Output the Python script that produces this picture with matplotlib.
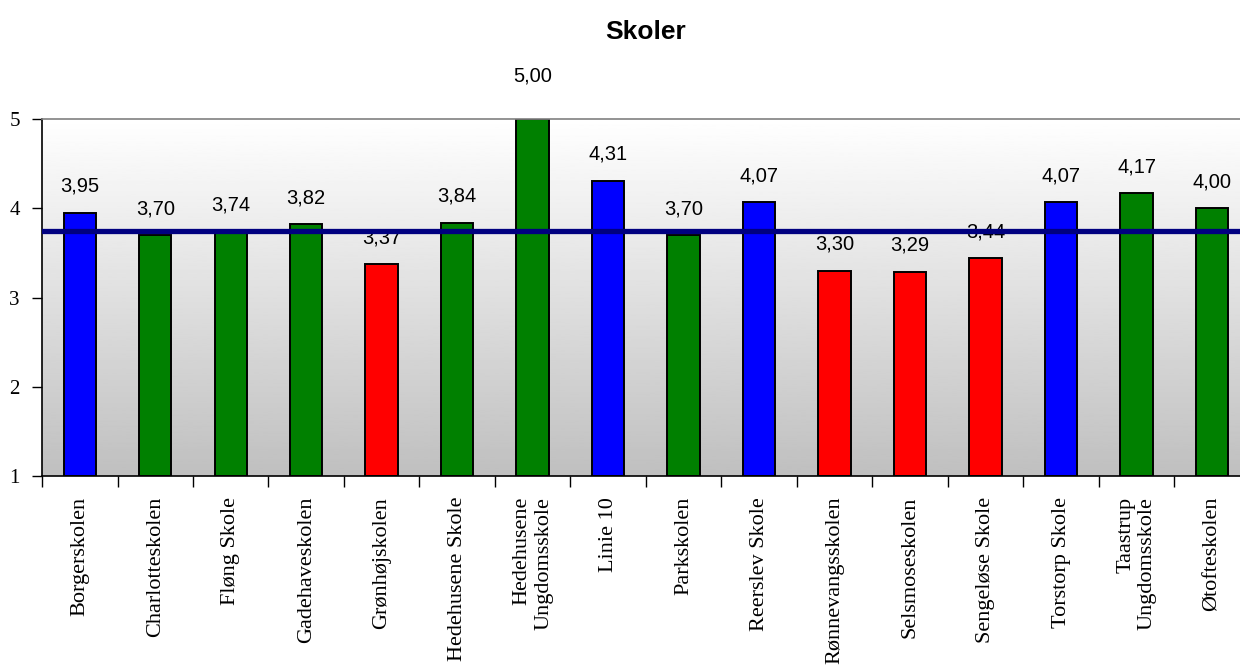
import numpy as np
import matplotlib.pyplot as plt

# data
schools = ['Borgerskolen', 'Charlotteskolen', 'Fløng Skole', 'Gadehaveskolen',
           'Grønhøjskolen', 'Hedehusene Skole', 'Hedehusene\nUngdomsskole', 'Linie 10',
           'Parkskolen', 'Reerslev Skole', 'Rønnevangsskolen', 'Selsmoseskolen',
           'Sengeløse Skole', 'Torstorp Skole', 'Taastrup\nUngdomsskole', 'Øtofteskolen']
scores = [3.95, 3.70, 3.74, 3.82, 3.37, 3.84, 5.00, 4.31,
          3.70, 4.07, 3.30, 3.29, 3.44, 4.07, 4.17, 4.00]
groups = ['blue', 'green', 'green', 'green', 'red', 'green', 'green', 'blue',
          'green', 'blue', 'red', 'red', 'red', 'blue', 'green', 'green']
reference_level = 3.74
y_ticks = [1, 2, 3, 4, 5]

group_colors = {'blue': '#0000FF', 'green': '#008000', 'red': '#FF0000'}

plt.rcParams['font.family'] = ['Liberation Sans', 'DejaVu Sans']

fig = plt.figure(figsize=(12.4, 6.66), dpi=100)
ax = fig.add_axes([0.0339, 0.2853, 0.974, 0.536])

n = len(schools)
x = np.arange(n)
ax.set_xlim(-0.5, n - 0.5)
ax.set_ylim(1, 5)

# gradient background: white at top -> grey at bottom
grad = np.linspace(1.0, 0.75, 256).reshape(-1, 1)
ax.imshow(grad, cmap='gray', vmin=0, vmax=1, aspect='auto',
          extent=(-0.5, n - 0.5, 1, 5), zorder=0)

colors = [group_colors[g] for g in groups]
ax.bar(x, np.array(scores) - 1, bottom=1, width=0.43, color=colors,
       edgecolor='black', linewidth=1.4, zorder=2)

for xi, v in zip(x, scores):
    off = 31 if v >= 5 else 19
    ax.annotate(f'{v:.2f}'.replace('.', ','), (xi, v), xytext=(0, off),
                textcoords='offset points', ha='center', va='center',
                fontsize=14.5, clip_on=False)

ax.axhline(reference_level, color='#000080', linewidth=3.8, zorder=3)

# spines
ax.spines['top'].set_color('#808080')
ax.spines['top'].set_linewidth(1.2)
ax.spines['right'].set_visible(False)
ax.spines['left'].set_linewidth(1.2)
ax.spines['bottom'].set_linewidth(1.2)

ax.set_yticks(y_ticks)
ax.set_yticklabels([str(t) for t in y_ticks], family=['Liberation Serif'], fontsize=15)
ax.tick_params(axis='y', direction='out', length=7, width=1, pad=9)

ax.set_xticks(x)
ax.set_xticklabels(schools, rotation=90, family=['Liberation Serif'],
                   fontsize=16, ma='right')
ax.tick_params(axis='x', which='major', length=0, pad=15)
ax.set_xticks(np.arange(n + 1) - 0.5, minor=True)
ax.tick_params(axis='x', which='minor', direction='out', length=8, width=1)

fig.text(0.521, 0.952, 'Skoler', ha='center', va='center',
         fontsize=19, fontweight='bold')

fig.savefig('out.png', dpi=100)
